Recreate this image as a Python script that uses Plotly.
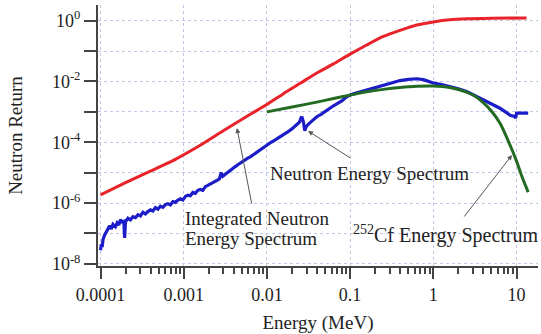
import plotly.graph_objects as go

# ---------------- data ----------------
# Integrated neutron energy spectrum (red)
red_E = [1.0e-4, 2.0e-4, 3.98e-4, 7.94e-4, 1.58e-3, 3.16e-3, 6.31e-3, 1.0e-2, 1.58e-2,
         2.51e-2, 3.98e-2, 6.31e-2, 0.1, 0.158, 0.251, 0.398, 0.631, 1.0, 1.58, 2.51, 5.01, 13.2]
red_R = [1.86e-6, 4.68e-6, 1.12e-5, 2.75e-5, 7.94e-5, 2.63e-4, 8.32e-4, 1.74e-3, 3.98e-3,
         8.71e-3, 1.91e-2, 3.80e-2, 7.94e-2, 0.158, 0.302, 0.479, 0.724, 0.912, 1.07, 1.15, 1.20, 1.23]

blue_logE = [-4.00, -3.99, -3.98, -3.97, -3.95, -3.93, -3.91, -3.89, -3.87, -3.85, -3.82, -3.80,
             -3.78, -3.76, -3.74, -3.72, -3.71, -3.70, -3.67, -3.64, -3.61, -3.58, -3.55, -3.52,
             -3.49, -3.46, -3.43, -3.40, -3.37, -3.34, -3.31, -3.28, -3.25, -3.22, -3.19, -3.16,
             -3.13, -3.10, -3.07, -3.04, -3.01, -2.98, -2.95, -2.92, -2.89, -2.86, -2.83, -2.80,
             -2.77, -2.74, -2.71, -2.68, -2.65, -2.62, -2.59, -2.57, -2.55, -2.53, -2.50, -2.47,
             -2.44, -2.41, -2.38, -2.35, -2.32, -2.29, -2.26, -2.23, -2.20, -2.17, -2.14, -2.11,
             -2.08, -2.05, -2.02, -2.00, -1.95, -1.90, -1.85, -1.80, -1.75, -1.70, -1.65, -1.61,
             -1.59, -1.58, -1.56, -1.545, -1.53, -1.50, -1.45, -1.40, -1.35, -1.30, -1.25, -1.20,
             -1.15, -1.10, -1.05, -1.00, -0.95, -0.90, -0.80, -0.70, -0.60, -0.50, -0.40, -0.30,
             -0.20, -0.12, -0.05, 0.00, 0.10, 0.20, 0.30, 0.40, 0.50, 0.60, 0.70, 0.80, 0.88,
             0.93, 0.97, 0.99, 1.00, 1.14]
blue_logR = [-7.55, -7.35, -7.45, -7.20, -7.05, -6.95, -6.90, -6.75, -6.85, -6.70, -6.78, -6.65,
             -6.72, -6.55, -6.62, -6.60, -7.15, -6.62, -6.50, -6.55, -6.45, -6.48, -6.38, -6.42,
             -6.30, -6.36, -6.28, -6.22, -6.26, -6.15, -6.20, -6.10, -6.14, -6.05, -6.02, -6.06,
             -5.95, -5.98, -5.90, -5.86, -5.90, -5.78, -5.74, -5.76, -5.65, -5.68, -5.58, -5.55,
             -5.58, -5.46, -5.42, -5.38, -5.32, -5.28, -5.24, -5.20, -5.00, -5.12, -5.05, -5.00,
             -4.92, -4.86, -4.80, -4.74, -4.68, -4.64, -4.58, -4.52, -4.48, -4.42, -4.36, -4.32,
             -4.26, -4.20, -4.14, -4.10, -4.00, -3.92, -3.84, -3.76, -3.66, -3.56, -3.44, -3.34,
             -3.20, -3.16, -3.35, -3.62, -3.50, -3.40, -3.28, -3.16, -3.08, -2.98, -2.88, -2.80,
             -2.72, -2.64, -2.52, -2.44, -2.40, -2.36, -2.28, -2.19, -2.12, -2.04, -1.97, -1.93,
             -1.91, -1.94, -2.00, -2.05, -2.10, -2.16, -2.24, -2.33, -2.46, -2.59, -2.74, -2.88,
             -3.02, -3.12, -3.14, -3.20, -3.04, -3.04]

# 252Cf energy spectrum (green)
cf_E = [0.01, 0.02, 0.0398, 0.0631, 0.1, 0.158, 0.251, 0.398, 0.631, 1.0, 1.58, 2.51, 3.16,
        3.98, 5.01, 6.31, 7.94, 10.0, 11.7, 13.8]
cf_R = [1.0e-3, 1.45e-3, 2.09e-3, 2.75e-3, 3.55e-3, 4.57e-3, 5.50e-3, 6.31e-3, 6.92e-3, 7.08e-3,
        6.31e-3, 4.47e-3, 3.31e-3, 2.0e-3, 1.05e-3, 4.27e-4, 1.12e-4, 2.40e-5, 7.08e-6, 2.29e-6]

x_tick_vals = [1e-4, 1e-3, 1e-2, 1e-1, 1, 10]
x_tick_text = ["0.0001", "0.001", "0.01", "0.1", "1", "10"]
y_tick_vals = [1e-8, 1e-6, 1e-4, 1e-2, 1]
y_tick_text = ["10<sup>-8</sup>", "10<sup>-6</sup>", "10<sup>-4</sup>", "10<sup>-2</sup>",
               "10<sup>0</sup>"]
y_minor_vals = [1e-7, 1e-5, 1e-3, 1e-1]

blue_E = [10 ** v for v in blue_logE]
blue_R = [10 ** v for v in blue_logR]

minor_x = [m * 10 ** d for d in range(-4, 2) for m in range(2, 10)]

FONT = "Liberation Serif"
AX = "#444444"
GRID = "#c4c4e6"

fig = go.Figure()
fig.add_trace(go.Scatter(x=red_E, y=red_R, mode="lines",
                         line=dict(color="#e8232a", width=3, shape="spline", smoothing=0.6)))
fig.add_trace(go.Scatter(x=blue_E, y=blue_R, mode="lines",
                         line=dict(color="#1c1cc8", width=3.2)))
fig.add_trace(go.Scatter(x=cf_E, y=cf_R, mode="lines",
                         line=dict(color="#236b22", width=3, shape="spline", smoothing=0.6)))

fig.update_layout(
    width=541, height=334,
    margin=dict(l=98, r=3, t=5, b=68),
    paper_bgcolor="white", plot_bgcolor="white",
    showlegend=False,
    font=dict(family=FONT, size=18, color="#222222"),
)

fig.update_xaxes(
    type="log", range=[-4.03, 1.258], automargin=False,
    tickmode="array", tickvals=x_tick_vals, ticktext=x_tick_text,
    ticks="outside", ticklen=11, tickwidth=2, tickcolor=AX,
    showline=True, linecolor=AX, linewidth=2,
    showgrid=True, gridcolor=GRID, griddash="dot", gridwidth=1,
    zeroline=False,
    minor=dict(tickmode="array", tickvals=minor_x, ticks="outside", ticklen=6,
               tickwidth=2, tickcolor=AX, showgrid=False),
    tickfont=dict(family=FONT, size=18, color="#222222"),
    title=dict(text="Energy (MeV)", font=dict(family=FONT, size=19, color="#222222"), standoff=12),
)
fig.update_yaxes(
    type="log", range=[-8.07, 0.516], automargin=False,
    tickmode="array", tickvals=y_tick_vals, ticktext=y_tick_text,
    ticks="outside", ticklen=12, tickwidth=2, tickcolor=AX,
    showline=True, linecolor=AX, linewidth=2,
    showgrid=True, gridcolor=GRID, griddash="dot", gridwidth=1,
    zeroline=False,
    minor=dict(tickmode="array", tickvals=y_minor_vals, ticks="outside", ticklen=12,
               tickwidth=2, tickcolor=AX, showgrid=True, gridcolor=GRID, griddash="dot",
               gridwidth=1),
    tickfont=dict(family=FONT, size=18, color="#222222"),
    title=dict(text="Neutron Return", font=dict(family=FONT, size=19, color="#222222"), standoff=24),
)

TXT = dict(family=FONT, size=19, color="#222222")
ARROW = dict(showarrow=True, arrowhead=2, arrowsize=1, arrowwidth=1, arrowcolor="#555555",
             text="", axref="pixel", ayref="pixel")

annotations = [
    dict(x=-2.996, y=-6.52, text="Integrated Neutron", xanchor="left", yanchor="middle",
         showarrow=False, font=TXT, borderpad=0),
    dict(x=-2.996, y=-7.18, text="Energy Spectrum", xanchor="left", yanchor="middle",
         showarrow=False, font=TXT, borderpad=0),
    dict(x=-1.975, y=-5.04, text="Neutron Energy Spectrum", xanchor="left", yanchor="middle",
         showarrow=False, font=TXT, borderpad=0),
    dict(x=-0.975, y=-7.02, text="<sup>252</sup>Cf Energy Spectrum", xanchor="left",
         yanchor="middle", showarrow=False, font=dict(family=FONT, size=20, color="#222222"),
         borderpad=0),
    dict(x=-2.36, y=-3.53, ax=15, ay=77, **ARROW),
    dict(x=-1.506, y=-3.63, ax=44, ay=28, **ARROW),
    dict(x=0.946, y=-4.42, ax=-49, ay=63, **ARROW),
]
fig.update_layout(annotations=annotations)

fig.write_html("out.html", config={"displayModeBar": False},
               post_script="document.body.style.margin='0px';document.body.style.padding='0px';")
